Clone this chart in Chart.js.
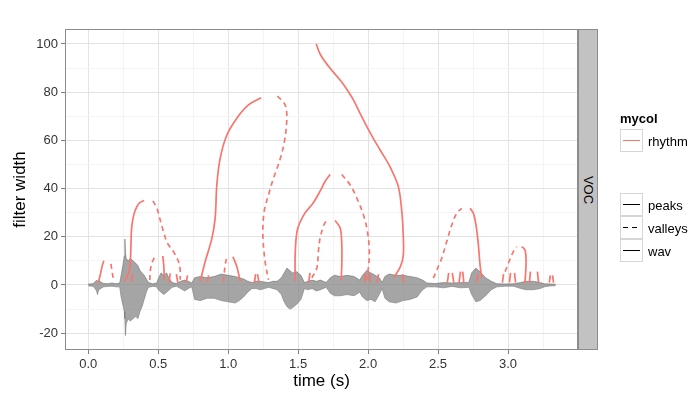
<!DOCTYPE html>
<html>
<head>
<meta charset="utf-8">
<script src="https://cdn.jsdelivr.net/npm/chart.js@4.4.0/dist/chart.umd.min.js"></script>
<style>
  body { margin: 0; background: #fff; }
  #wrap { position: relative; width: 690px; height: 395px; overflow: hidden; font-family: "Liberation Sans", Arial, sans-serif; color: #000; }
  #wrap canvas { position: absolute; left: 0; top: 0; }
  .lbl { position: absolute; white-space: nowrap; line-height: 1; transform: translateY(-50%); }
  #title { left: 328px; top: 15px; font-size: 20px; transform: translate(-50%, -50%); }
  #strip { position: absolute; left: 578px; top: 29px; width: 20px; height: 321px; box-sizing: border-box;
           background: #c2c2c2; border: 1px solid #8c8c8c; }
  #strip span { position: absolute; left: 50%; top: 50%; font-size: 13px; transform: translate(-50%, -50%) rotate(90deg); }
  .key { position: absolute; left: 620px; width: 23px; height: 23px; box-sizing: border-box; border: 1px solid #d6d6d6; background: #fff; }
  .key i { position: absolute; left: 2px; right: 2px; top: 50%; height: 1.4px; margin-top: -0.7px; background: #000; }
  .key i.red { background: #F8766D; }
  .key i.dash { background: repeating-linear-gradient(to right, #000 0 5px, transparent 5px 9px); }
  .leg { font-size: 13px; left: 648px; }
</style>
</head>
<body>
<div id="wrap">
  <canvas id="chart" width="690" height="395"></canvas>
  <div id="title">B1A1sent_001</div>
  <div id="strip"><span>VOC</span></div>
  <div class="lbl" style="left:620px; top:118px; font-size:13px; font-weight:bold;">mycol</div>
  <div class="key" style="top:129px;"><i class="red"></i></div>
  <div class="lbl leg" style="top:141px;">rhythm</div>
  <div class="key" style="top:193px;"><i></i></div>
  <div class="lbl leg" style="top:205px;">peaks</div>
  <div class="key" style="top:216px;"><i class="dash"></i></div>
  <div class="lbl leg" style="top:228px;">valleys</div>
  <div class="key" style="top:239px;"><i></i></div>
  <div class="lbl leg" style="top:251px;">wav</div>
</div>
<script>
// axis breaks
const xMajor = [0, 0.5, 1, 1.5, 2, 2.5, 3];
const xMinor = [0.25, 0.75, 1.25, 1.75, 2.25, 2.75, 3.25];
const yMajor = [-20, 0, 20, 40, 60, 80, 100];
const yMinor = [-10, 10, 30, 50, 70, 90];

// waveform envelope (time in s, upper / lower amplitude)
const waveT  = [0.000, 0.030, 0.045, 0.060, 0.066, 0.075, 0.090, 0.110, 0.140, 0.170, 0.200, 0.225, 0.235, 0.250, 0.258, 0.262, 0.266, 0.272, 0.285, 0.300,
                0.320, 0.340, 0.355, 0.370, 0.385, 0.400, 0.415, 0.430, 0.460, 0.490, 0.500, 0.520, 0.540, 0.560, 0.580, 0.600, 0.630, 0.660, 0.690, 0.715,
                0.740, 0.760, 0.800, 0.850, 0.900, 0.950, 1.000, 1.050, 1.080, 1.110, 1.140, 1.170, 1.200, 1.230, 1.260, 1.290, 1.320, 1.350, 1.380, 1.400,
                1.420, 1.440, 1.460, 1.490, 1.520, 1.545, 1.570, 1.600, 1.630, 1.660, 1.700, 1.730, 1.760, 1.800, 1.850, 1.900, 1.940, 1.960, 1.990, 2.020,
                2.050, 2.080, 2.100, 2.120, 2.150, 2.200, 2.250, 2.300, 2.350, 2.390, 2.420, 2.480, 2.540, 2.600, 2.660, 2.720, 2.740, 2.770, 2.800, 2.840,
                2.880, 2.920, 2.980, 3.040, 3.090, 3.130, 3.180, 3.230, 3.260, 3.300, 3.340];
const waveHi = [0.4, 0.5, 1.0, 2.0, 1.5, 2.0, 1.2, 0.6, 0.5, 0.8, 0.5, 0.8, 4.0, 9.0, 12, 19, 13, 11, 10, 11,
                10, 9, 8, 6, 5, 4, 2.5, 1.0, 0.5, 0.8, 2.5, 5.0, 4.0, 5.0, 2.5, 1.0, 0.6, 1.5, 2.0, 1.5,
                0.8, 3.0, 3.5, 3.0, 3.5, 4.5, 4.0, 3.5, 3.0, 2.5, 1.5, 1.0, 1.5, 1.5, 1.2, 1.0, 1.5, 1.5, 3.0, 5.0,
                7.0, 6.0, 5.0, 5.5, 4.0, 1.0, 1.5, 2.0, 1.5, 2.0, 1.0, 3.0, 4.0, 3.5, 4.0, 3.5, 2.0, 4.0, 6.0, 5.0,
                4.0, 3.0, 1.0, 3.5, 4.5, 4.0, 4.0, 3.5, 3.0, 2.0, 0.8, 0.6, 1.0, 0.8, 1.0, 1.0, 5.0, 7.0, 5.5, 3.0,
                1.5, 0.5, 0.4, 0.5, 1.0, 1.5, 1.5, 1.0, 0.5, 0.4, 0.3];
const waveLo = [-0.4, -0.5, -1.2, -2.5, -4.0, -2.0, -1.5, -0.8, -0.6, -0.5, -0.8, -0.8, -5.0, -9.0, -11, -14, -21, -16, -14, -15,
                -14, -13, -14, -11, -9, -6, -3, -1.0, -0.6, -0.8, -2.0, -3.0, -4.0, -3.0, -2.0, -1.0, -0.5, -1.5, -2.5, -1.5,
                -0.8, -6.0, -6.5, -5.5, -5.5, -6.5, -7.0, -7.5, -6.5, -5.0, -3.0, -1.5, -1.5, -2.0, -1.5, -1.0, -1.5, -2.0, -4.0, -7.0,
                -9.0, -10.0, -9.5, -8.0, -6.0, -1.5, -2.0, -1.5, -2.5, -2.0, -1.0, -3.5, -4.5, -4.5, -4.0, -4.5, -3.0, -5.0, -6.5, -6.0,
                -7.0, -4.0, -1.5, -5.5, -7.0, -7.5, -6.5, -6.0, -5.0, -2.0, -0.8, -0.8, -1.2, -0.6, -1.2, -1.0, -4.0, -7.0, -6.5, -4.5,
                -2.0, -0.8, -0.5, -0.5, -1.5, -2.0, -2.0, -1.5, -0.8, -0.4, -0.3];

// rhythm curves: [time, filter width]
const peakA = [[0.071, 0.8], [0.086, 4.1], [0.100, 7.9], [0.111, 10.0]];
const peakB = [[0.259, 1.4], [0.288, 4.9], [0.300, 9.0], [0.305, 16], [0.309, 22.8], [0.318, 27], [0.336, 31], [0.365, 34], [0.400, 35.0]];
const peakC = [[0.533, 12.0], [0.540, 8.0], [0.543, 2.0]];
const peakD = [[0.800, 1.4], [0.836, 9.7], [0.884, 19.4], [0.907, 27.7], [0.919, 41.5], [0.943, 52.6], [0.991, 62.2], [1.062, 69.2], [1.145, 74.7], [1.236, 77.7]];
const peakE = [[1.034, 11.7], [1.062, 7.6], [1.086, 1.4]];
const peakF = [[1.629, 100], [1.660, 95.5], [1.720, 90.5], [1.800, 85.0], [1.850, 81.0], [1.895, 76.8], [1.940, 71.5], [1.991, 65.7], [2.040, 60.5],
               [2.086, 56.0], [2.157, 49.0], [2.216, 40.8], [2.240, 31], [2.250, 22], [2.252, 12.6], [2.230, 7.5], [2.181, 2.9]];
const peakG = [[1.479, 1.5], [1.479, 12.6], [1.495, 23.0], [1.545, 29.5], [1.605, 33.8], [1.657, 38.9], [1.693, 43.0], [1.729, 45.8]];
const peakH = [[1.764, 26.7], [1.800, 23.7], [1.812, 16.7], [1.812, 8.4], [1.807, 1.8]];
const peakI = [[2.729, 31.8], [2.752, 29.8], [2.771, 24.9], [2.788, 16.6], [2.800, 8.3], [2.812, 2.8]];
const peakJ = [[3.098, 15.9], [3.121, 14.5], [3.129, 9.7], [3.121, 0.7]];

const valleyA = [[0.162, 8.7], [0.171, 5.4], [0.181, 2.1]];
const valleyB = [[0.462, 34.9], [0.491, 31.8], [0.514, 27.0], [0.538, 22.1], [0.566, 17.3], [0.609, 13.8], [0.645, 9.7], [0.657, 6.2], [0.657, 2.1]];
const valleyC = [[0.440, 2.0], [0.445, 6.5], [0.465, 10.5], [0.488, 12.0]];
const valleyD = [[1.352, 78.4], [1.407, 74.7], [1.419, 69.2], [1.402, 59.5], [1.366, 51.2], [1.324, 44.3], [1.288, 37.3], [1.257, 30.4], [1.248, 20.7], [1.264, 9.7], [1.288, 2.1]];
const valleyE = [[0.966, 1.4], [0.979, 8.3], [0.991, 11.7]];
const valleyF = [[1.812, 45.8], [1.871, 41.6], [1.919, 36.1], [1.966, 29.2], [1.995, 22.3], [2.009, 14.0], [2.002, 7.1], [1.986, 2.1]];
const valleyG = [[1.598, 2.9], [1.634, 7.1], [1.645, 14.0], [1.657, 19.5], [1.681, 24.4], [1.700, 26.7]];
const valleyH = [[2.466, 2.8], [2.491, 6.2], [2.526, 11.1], [2.562, 18.0], [2.598, 24.9], [2.634, 29.8], [2.669, 31.8]];
const valleyI = [[2.979, 5.5], [3.002, 9.0], [3.038, 13.8], [3.062, 15.9]];

// tiny valley marks near the baseline
const smallMarks = [
  [[0.305, 1.2], [0.318, 4.5]], [[0.578, 1.0], [0.586, 4.8]], [[0.630, 4.5], [0.640, 1.0]], [[0.700, 1.0], [0.710, 4.0]],
  [[0.850, 1.0], [0.860, 4.0]], [[1.188, 1.0], [1.196, 4.5]], [[1.210, 4.5], [1.220, 1.0]], [[1.575, 1.0], [1.585, 5.0]],
  [[1.975, 1.0], [1.982, 5.0]], [[2.010, 5.0], [2.018, 1.0]], [[2.066, 1.0], [2.074, 4.5]], [[2.246, 4.5], [2.254, 1.0]],
  [[2.566, 1.0], [2.576, 5.0]], [[2.602, 5.0], [2.612, 1.0]], [[2.650, 1.0], [2.660, 5.5]], [[2.676, 5.5], [2.684, 1.0]],
  [[2.775, 1.0], [2.783, 4.5]], [[2.960, 1.0], [2.968, 4.5]], [[3.010, 1.0], [3.018, 5.0]], [[3.046, 5.0], [3.054, 1.0]],
  [[3.153, 1.0], [3.160, 5.5]], [[3.210, 5.5], [3.218, 1.0]], [[3.295, 1.0], [3.302, 4.0]], [[3.318, 4.0], [3.325, 1.0]]
];

const red = '#F8766D';
const font = { family: '"Liberation Sans", Arial, sans-serif' };
const toPts = arr => arr.map(([x, y]) => ({ x, y }));
const curve = (arr, dashed) => ({
  data: toPts(arr), borderColor: red, borderWidth: 1.7, borderDash: dashed ? [5, 4] : [],
  pointRadius: 0, tension: 0.35, fill: false, order: 1
});

const peaks = [peakA, peakB, peakC, peakD, peakE, peakF, peakG, peakH, peakI, peakJ];
const valleys = [valleyA, valleyB, valleyC, valleyD, valleyE, valleyF, valleyG, valleyH, valleyI];

const waveStyle = { borderColor: 'rgba(95,95,95,0.85)', borderWidth: 0.6, pointRadius: 0, tension: 0, order: 3 };
const datasets = [
  { ...waveStyle, data: waveT.map((t, i) => ({ x: t, y: waveHi[i] })), backgroundColor: 'rgba(130,130,130,0.72)', fill: '+1' },
  { ...waveStyle, data: waveT.map((t, i) => ({ x: t, y: waveLo[i] })), fill: false },
  ...peaks.map(p => curve(p, false)),
  ...valleys.map(v => curve(v, true)),
  ...smallMarks.map(m => ({ ...curve(m, true), borderDash: [], tension: 0 }))
];

const isMajor = (list, v) => list.some(m => Math.abs(m - v) < 1e-9);

const panelBorder = {
  id: 'panelBorder',
  afterDatasetsDraw(chart) {
    const { ctx, chartArea: a } = chart;
    ctx.save();
    ctx.strokeStyle = '#8c8c8c';
    ctx.lineWidth = 1;
    ctx.strokeRect(a.left + 0.5, a.top + 0.5, a.right - a.left - 1, a.bottom - a.top - 1);
    ctx.restore();
  }
};

new Chart(document.getElementById('chart'), {
  type: 'line',
  data: { datasets },
  options: {
    responsive: false,
    animation: false,
    events: [],
    layout: { padding: { left: 0, right: 112, top: 29, bottom: 0 } },
    plugins: { legend: { display: false }, tooltip: { enabled: false } },
    scales: {
      x: {
        type: 'linear', min: -0.166, max: 3.5,
        afterFit: s => { s.height = 45; },
        afterBuildTicks: s => { s.ticks = [...xMajor, ...xMinor].sort((a, b) => a - b).map(v => ({ value: v })); },
        border: { display: false },
        grid: {
          color: c => isMajor(xMajor, c.tick.value) ? '#e3e3e3' : '#f4f4f4',
          tickColor: c => isMajor(xMajor, c.tick.value) ? '#7f7f7f' : 'rgba(0,0,0,0)',
          tickLength: 4, lineWidth: 1
        },
        ticks: {
          autoSkip: false, maxRotation: 0, padding: 3, color: '#333', font: { ...font, size: 13 },
          callback: v => isMajor(xMajor, v) ? v.toFixed(1) : ''
        },
        title: { display: true, text: 'time (s)', color: '#000', font: { ...font, size: 17 }, padding: { top: 0, bottom: 3 } }
      },
      y: {
        type: 'linear', min: -27, max: 106.2,
        afterFit: s => { s.width = 65; },
        afterBuildTicks: s => { s.ticks = [...yMajor, ...yMinor].sort((a, b) => a - b).map(v => ({ value: v })); },
        border: { display: false },
        grid: {
          color: c => isMajor(yMajor, c.tick.value) ? '#e3e3e3' : '#f4f4f4',
          tickColor: c => isMajor(yMajor, c.tick.value) ? '#7f7f7f' : 'rgba(0,0,0,0)',
          tickLength: 4, lineWidth: 1
        },
        ticks: {
          autoSkip: false, padding: 3, color: '#333', font: { ...font, size: 13 },
          callback: v => isMajor(yMajor, v) ? String(v) : ''
        },
        title: { display: true, text: 'filter width', color: '#000', font: { ...font, size: 17 }, padding: { top: 10, bottom: 0 } }
      }
    }
  },
  plugins: [panelBorder]
});
</script>
</body>
</html>
